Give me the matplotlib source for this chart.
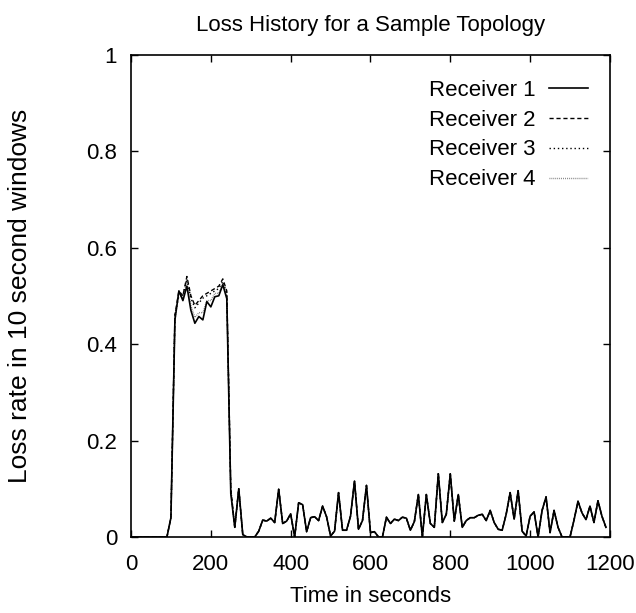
import matplotlib
matplotlib.use('Agg')
import matplotlib.pyplot as plt

plt.rcParams['font.family'] = ['Liberation Sans Narrow', 'Liberation Sans', 'DejaVu Sans']

# sample times, one every 10 s
time = list(range(0, 1200, 10))

receiver1 = [0, 0, 0, 0, 0, 0, 0, 0, 0, 0,
             0.04, 0.45, 0.51, 0.49, 0.52, 0.47, 0.443, 0.457, 0.45, 0.488,
             0.477, 0.498, 0.5, 0.523, 0.494, 0.09, 0.02, 0.1, 0.005, 0,
             0, 0, 0.012, 0.035, 0.033, 0.039, 0.03, 0.099, 0.028, 0.033,
             0.048, 0, 0.071, 0.067, 0.011, 0.04, 0.042, 0.034, 0.064, 0.042,
             0.002, 0.012, 0.092, 0.014, 0.014, 0.043, 0.116, 0.016, 0.034, 0.107,
             0.009, 0.011, 0, 0, 0.041, 0.028, 0.037, 0.034, 0.041, 0.039,
             0.014, 0.032, 0.088, 0, 0.088, 0.028, 0.02, 0.131, 0.03, 0.047,
             0.131, 0.033, 0.088, 0.02, 0.034, 0.04, 0.04, 0.045, 0.047, 0.034,
             0.055, 0.03, 0.016, 0.014, 0.047, 0.092, 0.037, 0.096, 0.012, 0.002,
             0.043, 0.052, 0, 0.055, 0.083, 0.009, 0.055, 0.02, 0, 0,
             0, 0.035, 0.074, 0.05, 0.036, 0.064, 0.03, 0.075, 0.043, 0.02]

# the other receivers only differ during the congested period (t = 100..250)
plateau2 = [0.04, 0.46, 0.51, 0.5, 0.54, 0.5, 0.48, 0.49, 0.5, 0.505,
            0.51, 0.515, 0.52, 0.535, 0.51, 0.1]
plateau3 = [0.04, 0.46, 0.5, 0.5, 0.535, 0.495, 0.475, 0.485, 0.495, 0.5,
            0.505, 0.51, 0.515, 0.53, 0.505, 0.1]
plateau4 = [0.04, 0.45, 0.51, 0.495, 0.53, 0.48, 0.455, 0.465, 0.465, 0.49,
            0.49, 0.505, 0.505, 0.525, 0.5, 0.095]

receiver2 = receiver1[:10] + plateau2 + receiver1[26:]
receiver3 = receiver1[:10] + plateau3 + receiver1[26:]
receiver4 = receiver1[:10] + plateau4 + receiver1[26:]

fig = plt.figure(figsize=(6.36, 6.13), dpi=100)
ax = fig.add_axes([0.206, 0.124, 0.753, 0.787])

ax.plot(time, receiver4, color='#777777', lw=1.0, ls=(0, (0.6, 0.8)), label='Receiver 4')
ax.plot(time, receiver3, color='black', lw=1.0, ls=(0, (1, 2)), label='Receiver 3')
ax.plot(time, receiver2, color='black', lw=1.0, ls=(0, (3, 2)), label='Receiver 2')
ax.plot(time, receiver1, color='black', lw=1.2, label='Receiver 1')

ax.set_xlim(0, 1200)
ax.set_ylim(0, 1)
ax.set_xticks([0, 200, 400, 600, 800, 1000, 1200])
ax.set_yticks([0, 0.2, 0.4, 0.6, 0.8, 1])
ax.set_yticklabels(['0', '0.2', '0.4', '0.6', '0.8', '1'])
ax.tick_params(direction='in', top=True, right=True, length=5, width=1,
               labelsize=16)
ax.tick_params(axis='x', pad=12)
ax.tick_params(axis='y', pad=10)
for s in ax.spines.values():
    s.set_linewidth(1.2)

ax.set_title('Loss History for a Sample Topology', fontsize=16, pad=17)
ax.set_xlabel('Time in seconds', fontsize=16, labelpad=8)
ax.set_ylabel('Loss rate in 10 second windows', fontsize=19, labelpad=39)

h, l = ax.get_legend_handles_labels()
ax.legend(h[::-1], l[::-1], loc='upper right', bbox_to_anchor=(0.954, 0.948),
          frameon=False, markerfirst=False, fontsize=16, handlelength=1.75,
          handletextpad=0.6, labelspacing=0.4, borderpad=0, borderaxespad=0)

fig.savefig('out.png', dpi=100)
